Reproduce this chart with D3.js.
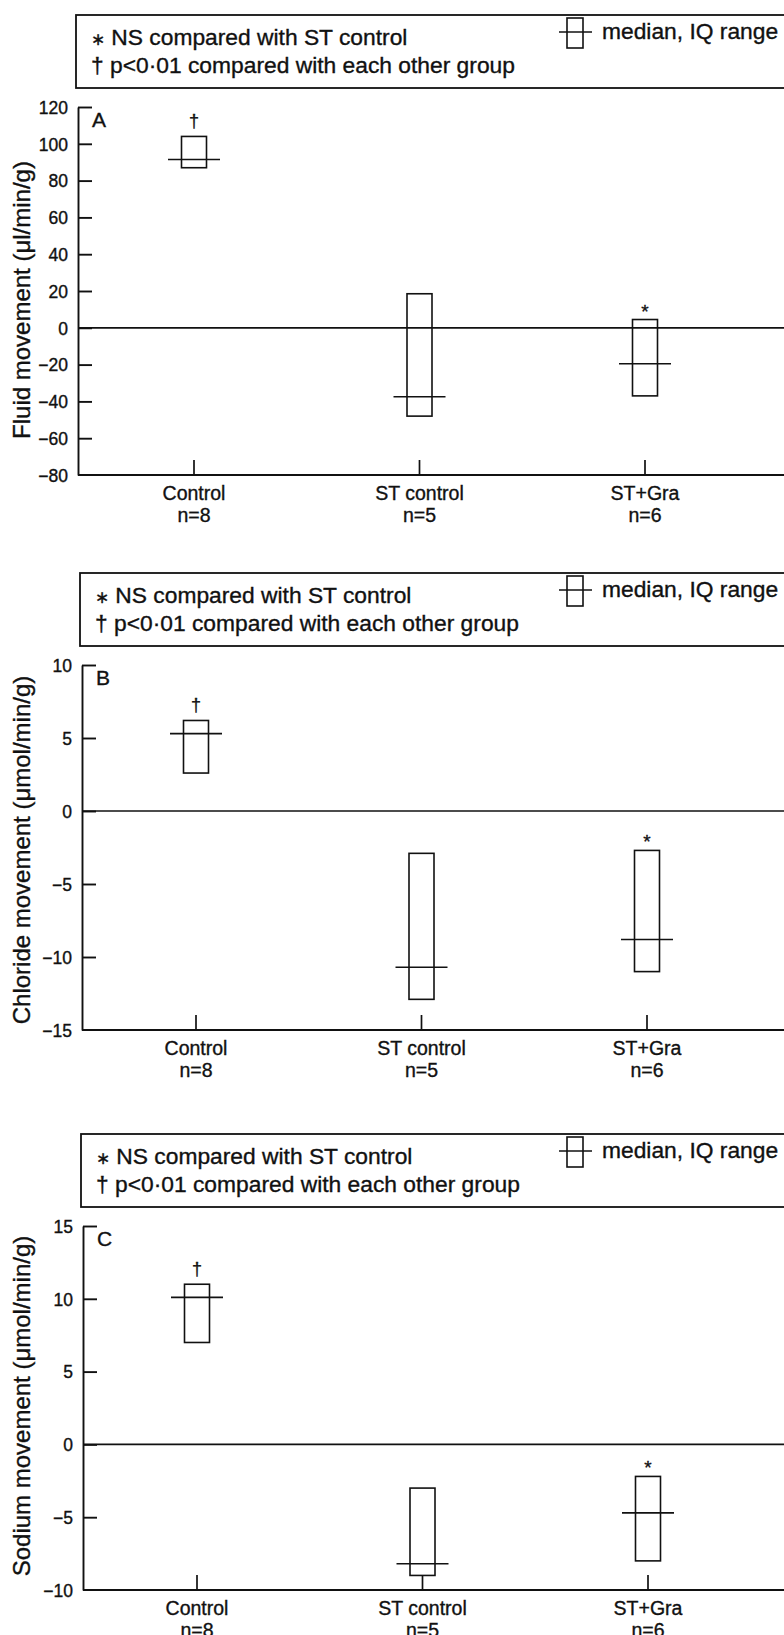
<!DOCTYPE html>
<html>
<head>
<meta charset="utf-8">
<script src="https://cdn.jsdelivr.net/npm/d3@7"></script>
<style>
  body { margin: 0; background: #fff; }
  svg { display: block; font-family: "Liberation Sans", Arial, Helvetica, sans-serif; }
  svg text { fill: #111; stroke: #111; stroke-width: 0.35px; }
  .axis path, .axis line { stroke: #111; stroke-width: 1.9; }
  .axis text { font-size: 17.5px; }
</style>
</head>
<body>
<div id="chart"></div>
<script>
// groups along the x axis
var categories = ["Control", "ST control", "ST+Gra"];
var groupSizes = ["n=8", "n=5", "n=6"];
var significance = ["\u2020", "", "*"];

// A: fluid movement (µl/min/g) - lower quartile, median, upper quartile
var fluidLow = [87, -48, -37];
var fluidMedian = [91.5, -37.5, -19.5];
var fluidHigh = [104, 18.5, 4.5];
var fluidTicks = [-80, -60, -40, -20, 0, 20, 40, 60, 80, 100, 120];

// B: chloride movement (µmol/min/g)
var chlorideLow = [2.6, -12.9, -11.0];
var chlorideMedian = [5.3, -10.7, -8.8];
var chlorideHigh = [6.2, -2.9, -2.7];
var chlorideTicks = [-15, -10, -5, 0, 5, 10];

// C: sodium movement (µmol/min/g)
var sodiumLow = [7.0, -9.0, -8.0];
var sodiumMedian = [10.1, -8.2, -4.7];
var sodiumHigh = [11.0, -3.0, -2.2];
var sodiumTicks = [-10, -5, 0, 5, 10, 15];

var legendMarks = ["\u2217", "\u2020"];
var legendNotes = ["NS compared with ST control", "p<0\u00b701 compared with each other group"];
var legendKey = "median, IQ range";

var width = 784,
    height = 1635;

var svg = d3.select("#chart").append("svg")
    .attr("width", width)
    .attr("height", height);

var panels = [
  {letter: "A", title: "Fluid movement (\u03bcl/min/g)", low: fluidLow, median: fluidMedian, high: fluidHigh, ticks: fluidTicks,
   top: 107, bottom: 475, left: 78, first: 194, last: 645, titleY: 300},
  {letter: "B", title: "Chloride movement (\u03bcmol/min/g)", low: chlorideLow, median: chlorideMedian, high: chlorideHigh, ticks: chlorideTicks,
   top: 665, bottom: 1030, left: 82, first: 196, last: 647, titleY: 850},
  {letter: "C", title: "Sodium movement (\u03bcmol/min/g)", low: sodiumLow, median: sodiumMedian, high: sodiumHigh, ticks: sodiumTicks,
   top: 1226, bottom: 1590, left: 83, first: 197, last: 648, titleY: 1406}
];

panels.forEach(function(p) {
  var g = svg.append("g");

  var x = d3.scalePoint().domain(categories).range([p.first, p.last]);
  var y = d3.scaleLinear()
      .domain(d3.extent(p.ticks))
      .range([p.bottom, p.top]);

  // legend box above the plot
  var ly = p.top - 92;
  g.append("rect")
      .attr("x", p.left - 2)
      .attr("y", ly)
      .attr("width", width)
      .attr("height", 73)
      .attr("fill", "none")
      .attr("stroke", "#111")
      .attr("stroke-width", 1.8);

  var note = g.selectAll(".note")
    .data(legendNotes)
    .enter().append("text")
      .attr("class", "note")
      .attr("x", p.left + 13)
      .attr("y", function(d, i) { return ly + 30 + i * 28; })
      .style("font-size", "22.8px");
  note.append("tspan")
      .style("font-size", function(d, i) { return i === 0 ? "17px" : "22.8px"; })
      .text(function(d, i) { return legendMarks[i]; });
  note.append("tspan")
      .text(function(d) { return " " + d; });

  g.append("rect")
      .attr("x", 567)
      .attr("y", ly + 3)
      .attr("width", 16)
      .attr("height", 30)
      .attr("fill", "none")
      .attr("stroke", "#111")
      .attr("stroke-width", 1.6);
  g.append("line")
      .attr("x1", 559).attr("x2", 592)
      .attr("y1", ly + 17).attr("y2", ly + 17)
      .attr("stroke", "#111")
      .attr("stroke-width", 1.6);
  g.append("text")
      .attr("x", 602)
      .attr("y", ly + 24)
      .style("font-size", "22.8px")
      .text(legendKey);

  // y axis, ticks pointing inwards
  g.append("g")
      .attr("class", "axis axis--y")
      .attr("transform", "translate(" + p.left + ",0)")
      .call(d3.axisLeft(y).tickValues(p.ticks).tickSize(-14).tickSizeOuter(0).tickPadding(10))
      .call(function(a) { a.selectAll(".tick").filter(function(d) { return d === p.ticks[0]; }).select("line").remove(); })
      .call(function(a) { a.selectAll("text").attr("dy", "0.36em"); });

  // x axis with upward ticks at each group
  g.append("line")
      .attr("x1", p.left).attr("x2", width)
      .attr("y1", p.bottom).attr("y2", p.bottom)
      .attr("stroke", "#111")
      .attr("stroke-width", 1.9);

  g.selectAll(".xtick")
    .data(categories)
    .enter().append("line")
      .attr("x1", function(d) { return x(d); })
      .attr("x2", function(d) { return x(d); })
      .attr("y1", p.bottom)
      .attr("y2", p.bottom - 15)
      .attr("stroke", "#111")
      .attr("stroke-width", 1.7);

  var lab = g.selectAll(".xlabel")
    .data(categories)
    .enter().append("text")
      .attr("class", "xlabel")
      .attr("text-anchor", "middle")
      .style("font-size", "19.5px");
  lab.append("tspan")
      .attr("x", function(d) { return x(d); })
      .attr("y", p.bottom + 25)
      .text(function(d) { return d; });
  lab.append("tspan")
      .attr("x", function(d) { return x(d); })
      .attr("y", p.bottom + 47)
      .text(function(d, i) { return groupSizes[i]; });

  // zero line
  g.append("line")
      .attr("x1", p.left).attr("x2", width)
      .attr("y1", y(0)).attr("y2", y(0))
      .attr("stroke", "#111")
      .attr("stroke-width", 1.7);

  // y axis title
  g.append("text")
      .attr("transform", "translate(30," + p.titleY + ") rotate(-90)")
      .attr("text-anchor", "middle")
      .style("font-size", "24px")
      .text(p.title);

  // panel letter
  g.append("text")
      .attr("x", p.left + 14)
      .attr("y", p.top + 20)
      .style("font-size", "21px")
      .text(p.letter);

  // IQ range boxes and medians
  var box = g.selectAll(".box")
    .data(categories)
    .enter().append("g")
      .attr("class", "box");

  box.append("rect")
      .attr("x", function(d) { return x(d) - 12.5; })
      .attr("y", function(d, i) { return y(p.high[i]); })
      .attr("width", 25)
      .attr("height", function(d, i) { return y(p.low[i]) - y(p.high[i]); })
      .attr("fill", "none")
      .attr("stroke", "#111")
      .attr("stroke-width", 1.6);

  box.append("line")
      .attr("x1", function(d) { return x(d) - 26; })
      .attr("x2", function(d) { return x(d) + 26; })
      .attr("y1", function(d, i) { return y(p.median[i]); })
      .attr("y2", function(d, i) { return y(p.median[i]); })
      .attr("stroke", "#111")
      .attr("stroke-width", 1.6);

  box.append("text")
      .attr("x", function(d) { return x(d); })
      .attr("y", function(d, i) { return y(p.high[i]) - (significance[i] === "\u2020" ? 9 : 2); })
      .attr("text-anchor", "middle")
      .style("font-size", function(d, i) { return significance[i] === "*" ? "19px" : "18px"; })
      .text(function(d, i) { return significance[i]; });
});
</script>
</body>
</html>
